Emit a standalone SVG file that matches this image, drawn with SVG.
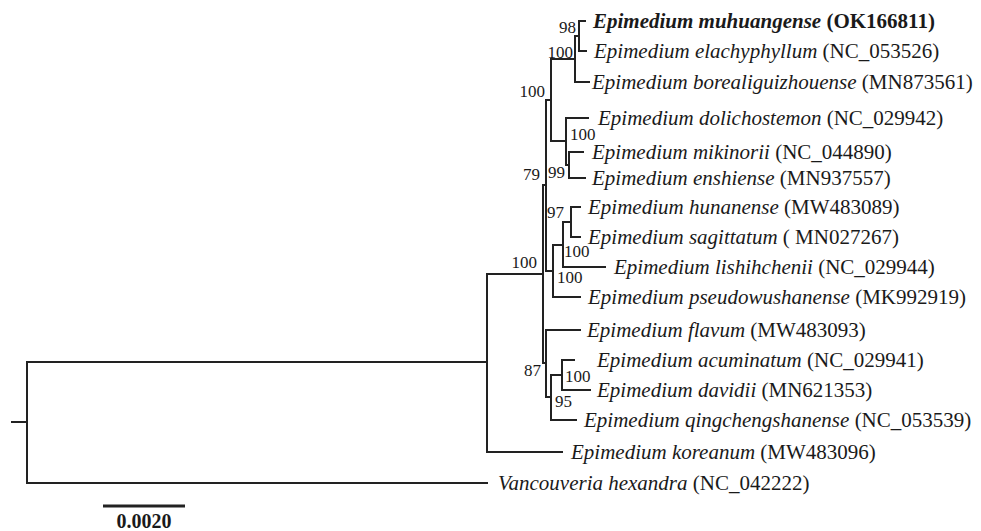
<svg xmlns="http://www.w3.org/2000/svg" width="981" height="531" viewBox="0 0 981 531">
<style>
.br{fill:none;stroke:#222;stroke-width:2;stroke-linejoin:miter;stroke-linecap:square}
.tx{font-family:"Liberation Serif","Times New Roman",serif;font-size:21px;fill:#1a1a1a}
.it{font-style:italic}
.bs{font-family:"Liberation Serif","Times New Roman",serif;font-size:17px;fill:#1a1a1a}
.e{text-anchor:end}
</style>
<rect width="981" height="531" fill="#fff"/>
<g id="connectors">
<path class="br" d="M12,422 H27"/>
<path class="br" d="M487,362 H27 V483 H487"/>
<path class="br" d="M543,274 H487 V452 H562"/>
<path class="br" d="M546,185 H543 V363 H546"/>
<path class="br" d="M551,100 H546 V271 H553"/>
<path class="br" d="M575,59 H551 V141 H566"/>
<path class="br" d="M579,36 H575 V82 H589"/>
<path class="br" d="M585,21 H579 V51 H586"/>
<path class="br" d="M588,118 H566 V165 H569"/>
<path class="br" d="M583,152 H569 V178 H585"/>
<path class="br" d="M563,245 H553 V297 H580"/>
<path class="br" d="M571,222 H563 V267 H605"/>
<path class="br" d="M580,207 H571 V237 H580"/>
<path class="br" d="M580,330 H546 V397 H551"/>
<path class="br" d="M562,375 H551 V420 H576"/>
<path class="br" d="M574,360 H562 V390 H590"/>
</g>
<g id="taxon-muhuangense"><text class="tx" x="593" y="28" font-weight="bold"><tspan class="it">Epimedium muhuangense</tspan> (OK166811)</text></g>
<g id="taxon-elachyphyllum"><text class="tx" x="594" y="58"><tspan class="it">Epimedium elachyphyllum</tspan> (NC_053526)</text></g>
<g id="taxon-borealiguizhouense"><text class="tx" x="592" y="89"><tspan class="it">Epimedium borealiguizhouense</tspan> (MN873561)</text></g>
<g id="taxon-dolichostemon"><text class="tx" x="598" y="125"><tspan class="it">Epimedium dolichostemon</tspan> (NC_029942)</text></g>
<g id="taxon-mikinorii"><text class="tx" x="592" y="159"><tspan class="it">Epimedium mikinorii</tspan> (NC_044890)</text></g>
<g id="taxon-enshiense"><text class="tx" x="592" y="185"><tspan class="it">Epimedium enshiense</tspan> (MN937557)</text></g>
<g id="taxon-hunanense"><text class="tx" x="588" y="214"><tspan class="it">Epimedium hunanense</tspan> (MW483089)</text></g>
<g id="taxon-sagittatum"><text class="tx" x="588" y="244"><tspan class="it">Epimedium sagittatum</tspan> ( MN027267)</text></g>
<g id="taxon-lishihchenii"><text class="tx" x="614" y="274"><tspan class="it">Epimedium lishihchenii</tspan> (NC_029944)</text></g>
<g id="taxon-pseudowushanense"><text class="tx" x="588" y="304"><tspan class="it">Epimedium pseudowushanense</tspan> (MK992919)</text></g>
<g id="taxon-flavum"><text class="tx" x="587" y="337"><tspan class="it">Epimedium flavum</tspan> (MW483093)</text></g>
<g id="taxon-acuminatum"><text class="tx" x="597" y="367"><tspan class="it">Epimedium acuminatum</tspan> (NC_029941)</text></g>
<g id="taxon-davidii"><text class="tx" x="597" y="397"><tspan class="it">Epimedium davidii</tspan> (MN621353)</text></g>
<g id="taxon-qingchengshanense"><text class="tx" x="584" y="427"><tspan class="it">Epimedium qingchengshanense</tspan> (NC_053539)</text></g>
<g id="taxon-koreanum"><text class="tx" x="571" y="459"><tspan class="it">Epimedium koreanum</tspan> (MW483096)</text></g>
<g id="taxon-vancouveria"><text class="tx" x="498" y="490"><tspan class="it">Vancouveria hexandra</tspan> (NC_042222)</text></g>
<g id="support">
<text class="bs e" x="576" y="33">98</text>
<text class="bs e" x="573" y="58">100</text>
<text class="bs e" x="545" y="97">100</text>
<text class="bs" x="570" y="140">100</text>
<text class="bs e" x="565" y="178">99</text>
<text class="bs e" x="540" y="180">79</text>
<text class="bs e" x="564" y="218">97</text>
<text class="bs" x="564" y="257">100</text>
<text class="bs e" x="537" y="268">100</text>
<text class="bs" x="557" y="283">100</text>
<text class="bs e" x="541" y="376">87</text>
<text class="bs" x="565" y="382">100</text>
<text class="bs" x="555" y="407">95</text>
</g>
<g id="scale-bar">
<path d="M103,506 H185" stroke="#222" stroke-width="3"/>
<text x="144" y="528" text-anchor="middle" font-family="Liberation Serif, Times New Roman, serif" font-size="20" font-weight="bold" fill="#1a1a1a">0.0020</text>
</g>
</svg>
